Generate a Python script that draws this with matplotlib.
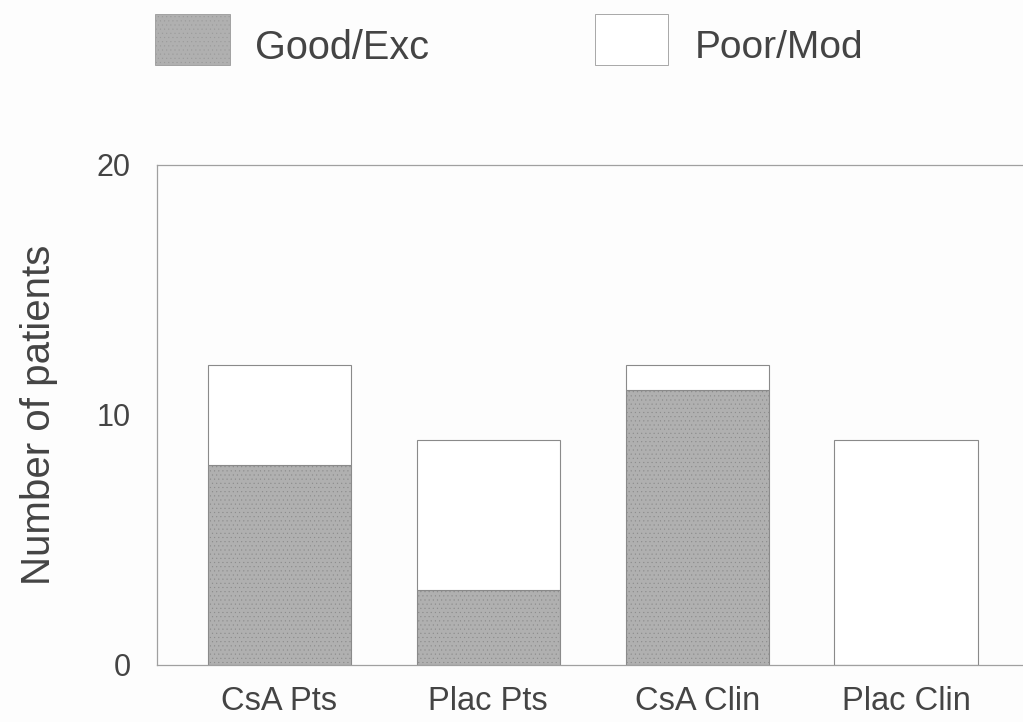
import matplotlib
matplotlib.use("Agg")
import matplotlib.pyplot as plt
from matplotlib.patches import Rectangle

plt.rcParams['font.family'] = ['Liberation Sans', 'DejaVu Sans']
plt.rcParams['hatch.color'] = "#a2a2a2"
plt.rcParams['hatch.linewidth'] = 0.3

categories = ["CsA Pts", "Plac Pts", "CsA Clin", "Plac Clin"]
good_exc = [8, 3, 11, 0]
poor_mod = [4, 6, 1, 9]
yticks = [0, 10, 20]

text_color = "#444444"
gray_fill = "#b0b0b0"
edge = "#8a8a8a"

fig = plt.figure(figsize=(10.23, 7.22), dpi=100)
fig.patch.set_facecolor("#fdfdfd")

# axes box in figure pixels: left 157, bottom 665, top 165, running off the right edge
W, H = 1023, 722
ax = fig.add_axes([157 / W, (H - 665) / H, (1023 - 157) / W, (665 - 165) / H])
ax.set_facecolor("#fdfdfd")

x = range(len(categories))
width = 0.685
ax.bar(x, good_exc, width=width, color=gray_fill, edgecolor=edge, linewidth=0.8,
       hatch="....", label="Good/Exc")
ax.bar(x, poor_mod, width=width, bottom=good_exc, color="white", edgecolor=edge,
       linewidth=0.8, label="Poor/Mod")

ax.set_xlim(-0.586, 3.56)
ax.set_ylim(0, 20)
ax.set_yticks(yticks)
ax.set_yticklabels([str(t) for t in yticks], fontsize=22, color=text_color)
ax.set_xticks(list(x))
ax.set_xticklabels(categories, fontsize=23.5, color=text_color)
ax.tick_params(axis="y", length=0, pad=19)
ax.tick_params(axis="x", length=0, pad=15)

for side in ["left", "top", "bottom"]:
    ax.spines[side].set_color("#a0a0a0")
    ax.spines[side].set_linewidth(0.9)
ax.spines["right"].set_visible(False)

ax.set_ylabel("Number of patients", fontsize=29, color=text_color, labelpad=28)

# legend row above the plot
fig.patches.append(Rectangle((155 / W, 1 - 65 / H), 75 / W, 51 / H,
                             transform=fig.transFigure, facecolor=gray_fill,
                             edgecolor="#9a9a9a", linewidth=0.6, hatch="....",
                             figure=fig))
fig.text(255 / W, 1 - 48 / H, "Good/Exc", fontsize=28.5, color=text_color,
         va="center", ha="left")
fig.patches.append(Rectangle((595 / W, 1 - 65 / H), 73 / W, 51 / H,
                             transform=fig.transFigure, facecolor="white",
                             edgecolor="#9a9a9a", linewidth=0.6, figure=fig))
fig.text(695 / W, 1 - 48 / H, "Poor/Mod", fontsize=28, color=text_color,
         va="center", ha="left")

fig.savefig("out.png", dpi=100, facecolor=fig.get_facecolor())
